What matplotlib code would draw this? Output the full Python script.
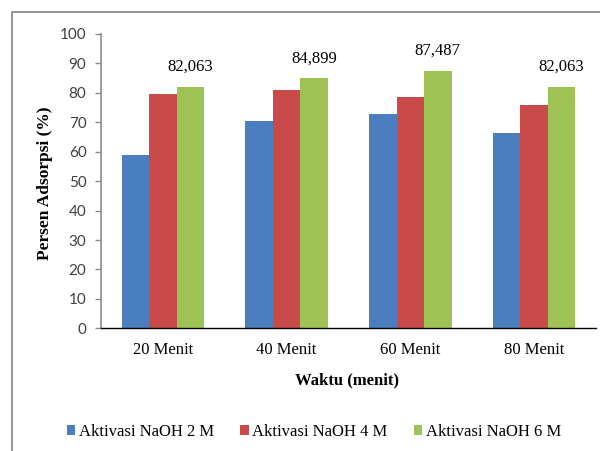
import matplotlib
matplotlib.use("Agg")
import matplotlib.pyplot as plt
from matplotlib.patches import Rectangle
import numpy as np

categories = ["20 Menit", "40 Menit", "60 Menit", "80 Menit"]
series_names = ["Aktivasi NaOH 2 M", "Aktivasi NaOH 4 M", "Aktivasi NaOH 6 M"]
naoh_2m = [58.9, 70.4, 72.8, 66.5]
naoh_4m = [79.7, 81.0, 78.7, 75.9]
naoh_6m = [82.063, 84.899, 87.487, 82.063]
value_labels = ["82,063", "84,899", "87,487", "82,063"]
colors = ["#4A7EBF", "#C84B4A", "#9EC255"]

serif = "Liberation Serif"
sans = "Lato"

fig = plt.figure(figsize=(6.0, 4.51), dpi=100)
fig.patch.set_facecolor("white")

# outer chart frame (runs off the right and bottom edges)
frame = Rectangle((12 / 600, -0.1), 1.2, 1 - 12 / 451 + 0.1,
                  transform=fig.transFigure, fill=False,
                  edgecolor="#8C8C8C", linewidth=1.3, clip_on=False)
fig.patches.append(frame)

ax = fig.add_axes([101 / 600, 1 - 328.3 / 451, 495 / 600, 294.3 / 451])

x = np.arange(len(categories))
w = 0.222
for i, (vals, name) in enumerate(zip([naoh_2m, naoh_4m, naoh_6m], series_names)):
    ax.bar(x + (i - 1) * w, vals, width=w, color=colors[i], label=name,
           edgecolor="none", zorder=2)

# value annotations above the 6 M bars
for xi, v, txt in zip(x + w, naoh_6m, value_labels):
    ax.annotate(txt, (xi, v), xytext=(0, 14.5), textcoords="offset points",
                ha="center", va="center", fontsize=12, family=serif,
                color="black")

ax.set_xlim(-0.5, 3.5)
ax.set_ylim(0, 100)
ax.set_yticks(np.arange(0, 101, 10))
ax.set_xticks(x)
ax.set_xticklabels(categories, family=serif, fontsize=12)

for s in ["top", "right"]:
    ax.spines[s].set_visible(False)
ax.spines["left"].set_color("#8C8C8C")
ax.spines["left"].set_linewidth(1.2)
ax.spines["bottom"].set_color("black")
ax.spines["bottom"].set_linewidth(1.0)

ax.tick_params(axis="y", direction="out", length=4.5, width=1.0,
               color="#8C8C8C", pad=6, labelsize=11, labelcolor="#404040")
for t in ax.get_yticklabels():
    t.set_family(sans)
ax.tick_params(axis="x", length=0, pad=10)

fig.text(347 / 600, 1 - 380 / 451, "Waktu (menit)", ha="center", va="center",
         family=serif, fontsize=12, fontweight="bold")
fig.text(45 / 600, 1 - 183.5 / 451, "Persen Adsorpsi (%)", ha="center",
         va="center", rotation=90, family=serif, fontsize=12.5,
         fontweight="bold")

handles, labels = ax.get_legend_handles_labels()
leg = fig.legend(handles, labels, loc="center", bbox_to_anchor=(314 / 600, 1 - 432 / 451),
                 ncol=3, frameon=False, handlelength=0.5, handleheight=0.5,
                 handletextpad=0.2, columnspacing=1.6, borderaxespad=0,
                 borderpad=0, prop={"family": serif, "size": 12})

fig.savefig("out.png", dpi=100, facecolor="white")
